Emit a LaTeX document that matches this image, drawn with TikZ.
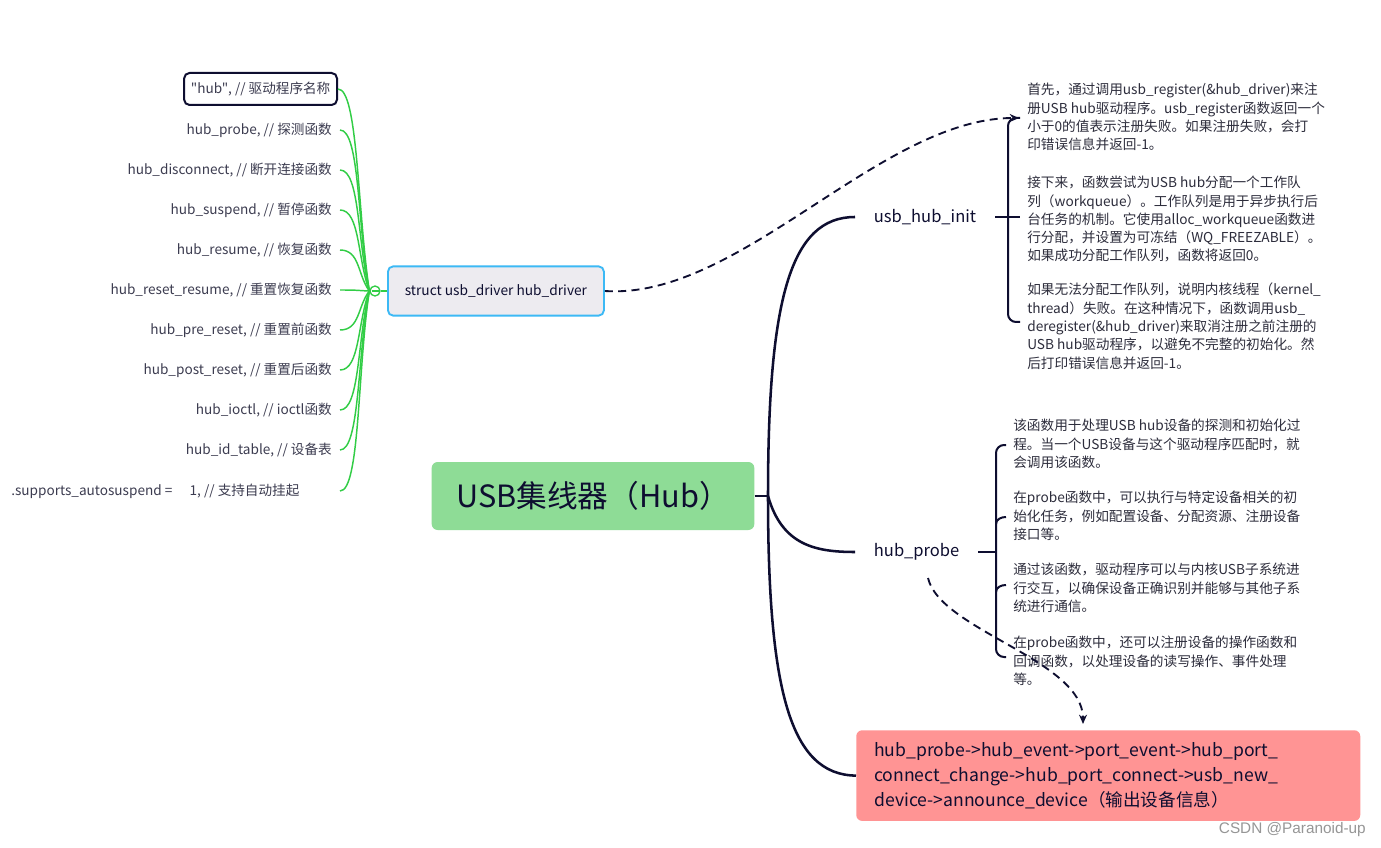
\documentclass[tikz,border=0pt]{standalone}
\usepackage{fontspec}
\setmainfont{Noto Sans CJK SC}
\newfontfamily\plainfont{Noto Sans CJK SC}
\newfontfamily\wmfont{Liberation Sans}
\usetikzlibrary{arrows.meta,calc}
\definecolor{navy}{RGB}{14,14,48}
\definecolor{lgreen}{RGB}{142,220,150}
\definecolor{pinkbox}{RGB}{255,148,148}
\definecolor{gline}{RGB}{50,205,70}
\definecolor{sfill}{RGB}{237,235,240}
\definecolor{sborder}{RGB}{60,185,245}
\definecolor{txt}{RGB}{45,45,60}
\definecolor{itemtxt}{RGB}{60,60,80}
\tikzset{
  para/.style={anchor=north west, inner sep=0pt, align=left, text=txt,
    font=\fontsize{10.25pt}{13.7pt}\selectfont},
  item/.style={anchor=east, inner xsep=6pt, inner ysep=2pt, text=itemtxt,
    font=\fontsize{10.2pt}{12pt}\selectfont},
  topic/.style={anchor=west, inner xsep=14pt, text=navy,
    font=\fontsize{12.4pt}{14pt}\selectfont},
  mainline/.style={draw=navy, line width=1.9pt},
  bracket/.style={draw=navy, line width=1.5pt},
  gcurve/.style={draw=gline, line width=1.1pt},
  dashconn/.style={draw=navy, line width=1.4pt, dash pattern=on 6pt off 4pt,
    -{Stealth[length=7pt,width=6pt]}},
}
\begin{document}
\begin{tikzpicture}[x=0.75pt,y=-0.75pt]
\fill[white] (0,0) rectangle (1381,848);
\useasboundingbox (0,0) rectangle (1381,848);

% central node
\node[fill=lgreen, rounded corners=4.5pt, minimum width=242pt, minimum height=51pt,
      text=navy, font=\fontsize{23pt}{26pt}\selectfont] (title) at (593,496) {USB集线器（Hub）};
\coordinate (junc) at (768,496);

% topics
\node[topic] (init) at (855,217) {usb\_hub\_init};
\node[topic] (probe) at (855,552) {hub\_probe};
\node[fill=pinkbox, rounded corners=4.5pt, anchor=north west, minimum width=378pt,
      minimum height=68pt, inner xsep=13.5pt, align=left, text=navy,
      font=\fontsize{13.2pt}{18.8pt}\selectfont, text width=351pt] (chain) at (856,730)
  {hub\_probe->hub\_event->port\_event->hub\_port\_\\connect\_change->hub\_port\_connect->usb\_new\_\\device->announce\_device（输出设备信息）};

\draw[mainline] (title.east) -- (junc);
\draw[mainline] (junc) .. controls (768,300) and (790,217) .. (init.west);
\draw[mainline] (junc) .. controls (782,545) and (815,552) .. (probe.west);
\draw[mainline] (junc) .. controls (768,690) and (790,775) .. (chain.west);

% struct node and list
\node[fill=sfill, draw=sborder, line width=1.4pt, rounded corners=4pt, anchor=west,
      minimum width=162pt, minimum height=37pt, text=navy,
      font=\fontsize{10.3pt}{12pt}\selectfont] (struct) at (387,291) {struct usb\_driver hub\_driver};
\node[circle, draw=gline, fill=white, line width=1pt, minimum size=7.5pt, inner sep=0pt] (circ) at (375,291) {};

\node[item, draw=navy, line width=1.5pt, fill=white, rounded corners=4pt, minimum height=24pt,
      inner xsep=5pt] (i0) at (338,89) {{\plainfont"hub"}, // 驱动程序名称};
\node[item] (i1) at (340,130) {hub\_probe, // 探测函数};
\node[item] (i2) at (340,170) {hub\_disconnect, // 断开连接函数};
\node[item] (i3) at (340,210) {hub\_suspend, // 暂停函数};
\node[item] (i4) at (340,250) {hub\_resume, // 恢复函数};
\node[item] (i5) at (340,290) {hub\_reset\_resume, // 重置恢复函数};
\node[item] (i6) at (340,330) {hub\_pre\_reset, // 重置前函数};
\node[item] (i7) at (340,370) {hub\_post\_reset, // 重置后函数};
\node[item] (i8) at (340,410) {hub\_ioctl, // ioctl函数};
\node[item] (i9) at (340,450) {hub\_id\_table, // 设备表};
\node[item, anchor=west, inner xsep=0pt] (i10) at (11,491) {.supports\_autosuspend =\hspace{13pt}1, // 支持自动挂起};
\coordinate (i10e) at (340,491);

\foreach \n in {i0,i1,i2,i3,i4,i5,i6,i7,i8,i9,i10e}
  \draw[gcurve] (\n.east) .. controls +(20,0) and ($(circ.west)!0.4!(circ.west |- \n.east) + (-12,0)$) .. (circ.west);
\draw[gcurve] (circ.east) -- (struct.west);
\draw[gline, line width=1pt] (371.5,291) -- (378.5,291);

% init bracket and paragraphs
\coordinate (initTop) at (1019,118);
\draw[bracket, rounded corners=6pt] (1020,118) -- (1008,118) -- (1008,322) -- (1020,322);
\draw[bracket] (init.east) -- (1020,217);

\node[para] (initA) at (1027,83) {首先，通过调用usb\_register(\&hub\_driver)来注\\册USB hub驱动程序。usb\_register函数返回一个\\小于0的值表示注册失败。如果注册失败，会打\\印错误信息并返回-1。};
\node[para] (initB) at (1027,176) {接下来，函数尝试为USB hub分配一个工作队\\列（workqueue）。工作队列是用于异步执行后\\台任务的机制。它使用alloc\_workqueue函数进\\行分配，并设置为可冻结（WQ\_FREEZABLE）。\\如果成功分配工作队列，函数将返回0。};
\node[para] (initC) at (1027,283) {如果无法分配工作队列，说明内核线程（kernel\_\\thread）失败。在这种情况下，函数调用usb\_\\deregister(\&hub\_driver)来取消注册之前注册的\\USB hub驱动程序，以避免不完整的初始化。然\\后打印错误信息并返回-1。};

% probe bracket and paragraphs
\draw[bracket, rounded corners=6pt] (1006,445) -- (996,445) -- (996,657) -- (1006,657);
\draw[bracket] (996,524) to[out=90,in=180] (1006,517);
\draw[bracket] (996,592) to[out=90,in=180] (1006,585);
\draw[bracket] (probe.east) -- (996,552);

\node[para] (probeA) at (1013,419) {该函数用于处理USB hub设备的探测和初始化过\\程。当一个USB设备与这个驱动程序匹配时，就\\会调用该函数。};
\node[para] (probeB) at (1013,491) {在probe函数中，可以执行与特定设备相关的初\\始化任务，例如配置设备、分配资源、注册设备\\接口等。};
\node[para] (probeC) at (1013,563) {通过该函数，驱动程序可以与内核USB子系统进\\行交互，以确保设备正确识别并能够与其他子系\\统进行通信。};
\node[para] (probeD) at (1013,636) {在probe函数中，还可以注册设备的操作函数和\\回调函数，以处理设备的读写操作、事件处理\\等。};

% dashed connectors
\draw[dashconn] (struct.east) .. controls (740,300) and (880,118) .. (initTop);
\coordinate (pstart) at (928,578);
\coordinate (pend) at (1083,724);
\draw[dashconn] (pstart) .. controls (940,630) and (1083,660) .. (pend);

% watermark
\node[anchor=east, inner sep=0pt, text={rgb,255:red,150;green,150;blue,150},
      font=\wmfont\fontsize{11.5pt}{13pt}\selectfont] (wm) at (1366,830) {CSDN @Paranoid-up};
\end{tikzpicture}
\end{document}
